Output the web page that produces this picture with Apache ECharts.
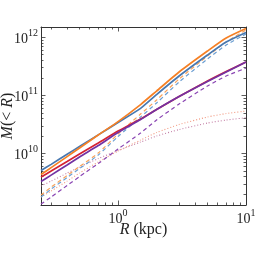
<!DOCTYPE html>
<html><head><meta charset="utf-8">
<script src="https://cdn.jsdelivr.net/npm/echarts@6/dist/echarts.min.js"></script>
<style>html,body{margin:0;padding:0;background:#fff}#c{width:274px;height:274px}</style>
</head><body><div id="c"></div>
<script>
// radii (kpc)
const radius = [0.25, 0.3, 0.4, 0.5, 0.7, 1, 1.5, 2, 3, 5, 7, 10];
// enclosed mass (Msun)
const blueTotal    = [5.1e9, 6.5e9, 9.7e9, 1.32e10, 2.09e10, 3.42e10, 5.98e10, 1.03e11, 2.15e11, 4.94e11, 8.28e11, 1.21e12];
const orangeTotal  = [4.34e9, 5.72e9, 8.85e9, 1.245e10, 2.08e10, 3.54e10, 6.95e10, 1.187e11, 2.52e11, 5.79e11, 9.7e11, 1.413e12];
const redTotal     = [3.93e9, 4.98e9, 7.26e9, 9.77e9, 1.511e10, 2.43e10, 3.91e10, 5.7e10, 9.54e10, 1.764e11, 2.57e11, 3.75e11];
const purpleTotal  = [3.29e9, 4.25e9, 6.32e9, 8.68e9, 1.369e10, 2.29e10, 3.84e10, 5.7e10, 9.54e10, 1.73e11, 2.52e11, 3.75e11];
const blueDashed   = [1.78e9, 2.44e9, 3.85e9, 5.5e9, 9.4e9, 1.956e10, 4.24e10, 7.38e10, 1.696e11, 4.22e11, 7.35e11, 1.136e12];
const orangeDashed = [1.925e9, 2.64e9, 4.17e9, 5.95e9, 1.017e10, 2.16e10, 4.77e10, 8.31e10, 1.91e11, 4.75e11, 8.28e11, 1.33e12];
const purpleDashed = [1.348e9, 1.78e9, 2.81e9, 4.01e9, 6.71e9, 1.192e10, 2.25e10, 3.76e10, 7.09e10, 1.447e11, 2.15e11, 2.95e11];
const salmonDotted = [1.78e9, 2.26e9, 3.35e9, 4.6e9, 7.12e9, 1.1e10, 1.7e10, 2.29e10, 3.15e10, 4.24e10, 4.87e10, 5.37e10];
const mauveDotted  = [2.75e9, 3.35e9, 4.6e9, 5.84e9, 8.18e9, 1.123e10, 1.573e10, 1.995e10, 2.58e10, 3.34e10, 3.76e10, 4.12e10];

// ticks
const xMajorTicks = [1, 10];
const xMinorTicks = [0.3, 0.4, 0.5, 0.6, 0.7, 0.8, 0.9, 2, 3, 4, 5, 6, 7, 8, 9];
const yMajorTicks = [1e10, 1e11, 1e12];
const yMinorTicks = [2e9, 3e9, 4e9, 5e9, 6e9, 7e9, 8e9, 9e9,
                     2e10, 3e10, 4e10, 5e10, 6e10, 7e10, 8e10, 9e10,
                     2e11, 3e11, 4e11, 5e11, 6e11, 7e11, 8e11, 9e11];
const xMin = 0.25, xMax = 10, yMin = 1.3e9, yMax = 1.5e12;

const FONT = 'Liberation Serif';
const AX = '#333';
const supRich = {
  b: { fontFamily: FONT, fontSize: 14, color: '#222', lineHeight: 18, verticalAlign: 'bottom' },
  s: { fontFamily: FONT, fontSize: 10, color: '#222', lineHeight: 10, verticalAlign: 'top' }
};
function sup(v) { return '{b|10}{s|' + Math.round(Math.log10(v)) + '}'; }

function makeAxis(kind, position, major, withLabels, withLine) {
  const isX = kind === 'x';
  return {
    type: 'log', logBase: 10, position: position,
    min: isX ? xMin : yMin, max: isX ? xMax : yMax,
    splitLine: { show: false },
    axisLine: { show: withLine, lineStyle: { color: AX, width: 1 } },
    axisTick: { show: true, inside: true, length: major ? 4.5 : 2.5,
      lineStyle: { color: AX, width: 0.8 },
      customValues: major ? (isX ? xMajorTicks : yMajorTicks) : (isX ? xMinorTicks : yMinorTicks) },
    axisLabel: withLabels ? { show: true, customValues: isX ? xMajorTicks : yMajorTicks,
      formatter: sup, rich: supRich, margin: 3 } : { show: false },
    minorTick: { show: false }
  };
}

const nameRich = { i: { fontFamily: FONT, fontStyle: 'italic', fontSize: 16, color: '#222' } };
const xAxes = [
  Object.assign(makeAxis('x', 'bottom', true, true, true), {
    name: '{i|R} (kpc)', nameLocation: 'middle', nameGap: 17, nameMoveOverlap: false,
    nameTextStyle: { fontFamily: FONT, fontSize: 16, color: '#222', rich: nameRich }
  }),
  makeAxis('x', 'bottom', false, false, false),
  makeAxis('x', 'top', true, false, true),
  makeAxis('x', 'top', false, false, false)
];
const yAxes = [
  Object.assign(makeAxis('y', 'left', true, true, true), {
    name: '{i|M}(< {i|R})', nameLocation: 'middle', nameGap: 25, nameRotate: 90, nameMoveOverlap: false,
    nameTextStyle: { fontFamily: FONT, fontSize: 16, color: '#222', rich: nameRich }
  }),
  makeAxis('y', 'left', false, false, false),
  makeAxis('y', 'right', true, false, true),
  makeAxis('y', 'right', false, false, false)
];

function line(name, arr, color, style, width) {
  return {
    name: name, type: 'line', xAxisIndex: 0, yAxisIndex: 0, symbol: 'none', smooth: 0.2,
    data: radius.map((r, i) => [r, arr[i]]),
    lineStyle: { color: color, width: width, type: style },
    emphasis: { disabled: true }
  };
}

const series = [
  line('mauve dotted', mauveDotted, '#c47fa6', [1, 2], 1.1),
  line('salmon dotted', salmonDotted, '#f29a82', [1, 2], 1.1),
  line('purple dashed', purpleDashed, '#8a45b3', [4, 3], 1.2),
  line('blue dashed', blueDashed, '#6c9fd2', [4, 3], 1.2),
  line('orange dashed', orangeDashed, '#f7a25c', [4, 3], 1.2),
  line('red', redTotal, '#d42233', 'solid', 1.7),
  line('purple', purpleTotal, '#7332a3', 'solid', 1.7),
  line('blue', blueTotal, '#4878b0', 'solid', 1.7),
  line('orange', orangeTotal, '#f58025', 'solid', 1.7)
];

const chart = echarts.init(document.getElementById('c'), null, { renderer: 'canvas' });
chart.setOption({
  animation: false,
  backgroundColor: '#fff',
  grid: { left: 41, right: 28, top: 27, bottom: 69, containLabel: false, outerBoundsMode: 'none' },
  xAxis: xAxes,
  yAxis: yAxes,
  series: series
});
</script></body></html>
